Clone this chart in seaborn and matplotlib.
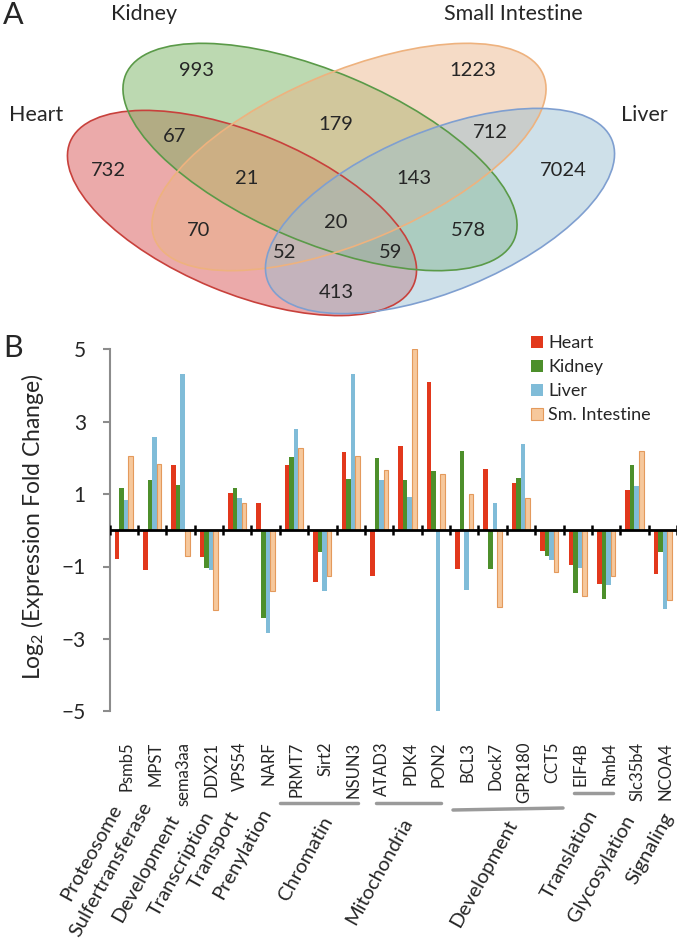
"""Venn diagram of tissue-specific genes (A) and log2 fold changes of selected genes (B)."""

import matplotlib

matplotlib.use("Agg")

import matplotlib.pyplot as plt
import numpy as np
import pandas as pd
import seaborn as sns
from matplotlib import transforms
from matplotlib.lines import Line2D
from matplotlib.patches import Ellipse

W, H = 680, 951

# ---- panel B data -------------------------------------------------------
genes = ["Psmb5", "MPST", "sema3aa", "DDX21", "VPS54", "NARF", "PRMT7", "Sirt2",
         "NSUN3", "ATAD3", "PDK4", "PON2", "BCL3", "Dock7", "GPR180", "CCT5",
         "EIF4B", "Rmb4", "Slc35b4", "NCOA4"]
tissues = ["Heart", "Kidney", "Liver", "Sm. Intestine"]
heart = [-0.79, -1.10, 1.80, -0.73, 1.03, 0.76, 1.80, -1.43, 2.16, -1.27,
         2.34, 4.11, -1.07, 1.69, 1.32, -0.58, -0.95, -1.49, 1.11, -1.21]
kidney = [1.17, 1.40, 1.26, -1.04, 1.16, -2.41, 2.03, -0.61, 1.42, 2.00,
          1.40, 1.64, 2.19, -1.08, 1.45, -0.70, -1.74, -1.89, 1.80, -0.61]
liver = [0.85, 2.58, 4.33, -1.10, 0.89, -2.85, 2.80, -1.68, 4.33, 1.40,
         0.91, -4.98, -1.64, 0.75, 2.38, -0.81, -1.04, -1.50, 1.22, -2.17]
intestine = [2.05, 1.84, -0.70, -2.21, 0.76, -1.67, 2.27, -1.25, 2.06, 1.67,
             5.00, 1.56, 0.99, -2.13, 0.89, -1.16, -1.82, -1.27, 2.19, -1.93]
y_ticks = [-5, -3, -1, 1, 3, 5]
group_names = ["Proteosome", "Sulfertransferase", "Development", "Transcription",
               "Transport", "Prenylation", "Chromatin", "Mitochondria",
               "Development", "Translation", "Glycosylation", "Signaling"]

# ---- panel A data -------------------------------------------------------
venn_sets = ["Heart", "Kidney", "Small Intestine", "Liver"]
venn_counts = [732, 993, 1223, 7024, 67, 179, 712, 21, 143, 20, 70, 578, 52, 59, 413]

# ---- layout (pixels) ----------------------------------------------------
venn_label_xy = [(36, 115), (144, 14), (513, 14), (644, 115)]
venn_count_xy = [(108, 170), (196, 71), (473, 71), (563, 170), (175, 136),
                 (336, 125), (490, 133), (247, 178), (414, 178), (336, 222),
                 (199, 231), (468, 230), (285, 252), (391, 252), (336, 293)]
# cx, cy, width, height, angle (y axis points down)
ellipse_geom = [(242, 213, 372, 160, 22.5), (320, 157, 422, 170, 23.0),
                (349, 157, 422, 170, -23.0), (440, 211, 372, 160, -22.5)]
venn_face = ["#d54c4c", "#72b05a", "#eab486", "#98bfd2"]
venn_edge = ["#c8413c", "#5a9a48", "#eeb27e", "#7f9fd0"]

bar_colors = ["#e2381c", "#4d8f2b", "#80bcd8", "#f6c89c"]
# x0, x1, y0, y1 (pixels)
group_lines = [(280, 358, 803, 803), (376, 441, 803, 803),
               (453, 563, 810, 808), (574, 613, 793, 793)]
group_label_xy = [(117, 806), (148, 803), (175, 816), (210, 813), (235, 813),
                  (267, 809), (328, 818), (408, 819), (513, 821), (594, 811),
                  (631, 816), (669, 814)]


def fy(px):
    return 1 - px / H


def draw_venn(fig):
    ax = fig.add_axes([0, fy(340), 1, 340 / H])
    ax.set_xlim(0, W)
    ax.set_ylim(340, 0)
    ax.axis("off")
    for (cx, cy, w, h, ang), face in zip(ellipse_geom, venn_face):
        ax.add_patch(Ellipse((cx, cy), w, h, angle=ang, facecolor=face,
                             edgecolor="none", alpha=0.47))
    for (cx, cy, w, h, ang), edge in zip(ellipse_geom, venn_edge):
        ax.add_patch(Ellipse((cx, cy), w, h, angle=ang, fill=False,
                             edgecolor=edge, lw=1.2))
    for name, (x, y) in zip(venn_sets, venn_label_xy):
        ax.text(x, y, name, ha="center", va="center", fontsize=15.5)
    for n, (x, y) in zip(venn_counts, venn_count_xy):
        ax.text(x, y, str(n), ha="center", va="center", fontsize=14.5)


def draw_bars(fig):
    left, right, top, bottom = 109.5, 677, 349.3, 711.3
    ax = fig.add_axes([left / W, fy(bottom), (right - left) / W, (bottom - top) / H])

    df = pd.DataFrame({"gene": genes, "Heart": heart, "Kidney": kidney,
                       "Liver": liver, "Sm. Intestine": intestine})
    df = df.melt(id_vars="gene", var_name="tissue", value_name="log2fc")
    sns.barplot(data=df, x="gene", y="log2fc", hue="tissue", hue_order=tissues,
                palette=bar_colors, saturation=1, width=0.64, gap=0,
                linewidth=0, errorbar=None, ax=ax)
    for p in ax.containers[3]:
        p.set_edgecolor("#e49a5c")
        p.set_linewidth(0.8)

    ax.set_xlim(-0.5, len(genes) - 0.5)
    ax.set_ylim(-5, 5)
    for s in ["top", "right", "bottom"]:
        ax.spines[s].set_visible(False)
    ax.spines["left"].set_color("#8c8c8c")
    ax.spines["left"].set_linewidth(1.5)
    ax.axhline(0, color="black", lw=2, zorder=3)
    ax.vlines(np.arange(-0.5, len(genes)), -0.14, 0.14, color="black", lw=1.8, zorder=3)

    ax.set_yticks(y_ticks)
    ax.tick_params(axis="y", left=True, length=5, width=1.5, color="#8c8c8c",
                   labelsize=15, pad=12)
    ax.set_xticks(range(len(genes)))
    ax.set_xticklabels(genes, rotation=90, fontsize=12)
    ax.tick_params(axis="x", length=0, pad=22)
    shift = transforms.ScaledTranslation(3 / 100, 0, fig.dpi_scale_trans)
    for lab in ax.get_xticklabels():
        lab.set_transform(lab.get_transform() + shift)
    ax.set_xlabel("")
    ax.set_ylabel("")

    sns.move_legend(ax, "upper left", bbox_to_anchor=(531 / W, fy(335)),
                    bbox_transform=fig.transFigure, frameon=False, title=None,
                    fontsize=13, handlelength=0.65, handleheight=0.65,
                    handletextpad=0.3, labelspacing=0.45, borderpad=0,
                    borderaxespad=0)
    leg = ax.get_legend()
    leg.legend_handles[3].set_edgecolor("#e49a5c")
    leg.legend_handles[3].set_linewidth(0.8)

    fig.text(33 / W, fy(527), r"Log$_\mathregular{2}$ (Expression Fold Change)",
             rotation=90, ha="center", va="center", fontsize=16.5)

    for x0, x1, y0, y1 in group_lines:
        fig.add_artist(Line2D([x0 / W, x1 / W], [fy(y0), fy(y1)],
                              transform=fig.transFigure, color="#9a9a9a", lw=2.5))
    for name, (x, y) in zip(group_names, group_label_xy):
        fig.text(x / W, fy(y), name, rotation=61, rotation_mode="anchor",
                 ha="right", va="center", fontsize=14.5)


def main():
    sns.set_style("white")
    plt.rcParams["font.family"] = ["Lato", "DejaVu Sans"]
    plt.rcParams["mathtext.fontset"] = "custom"
    plt.rcParams["mathtext.rm"] = "Lato"

    fig = plt.figure(figsize=(W / 100, H / 100), dpi=100)
    draw_venn(fig)
    draw_bars(fig)
    fig.text(3 / W, fy(15), "A", fontsize=22, ha="left", va="center")
    fig.text(3 / W, fy(348), "B", fontsize=22, ha="left", va="center")
    fig.savefig("out.png", dpi=100)


if __name__ == "__main__":
    main()
